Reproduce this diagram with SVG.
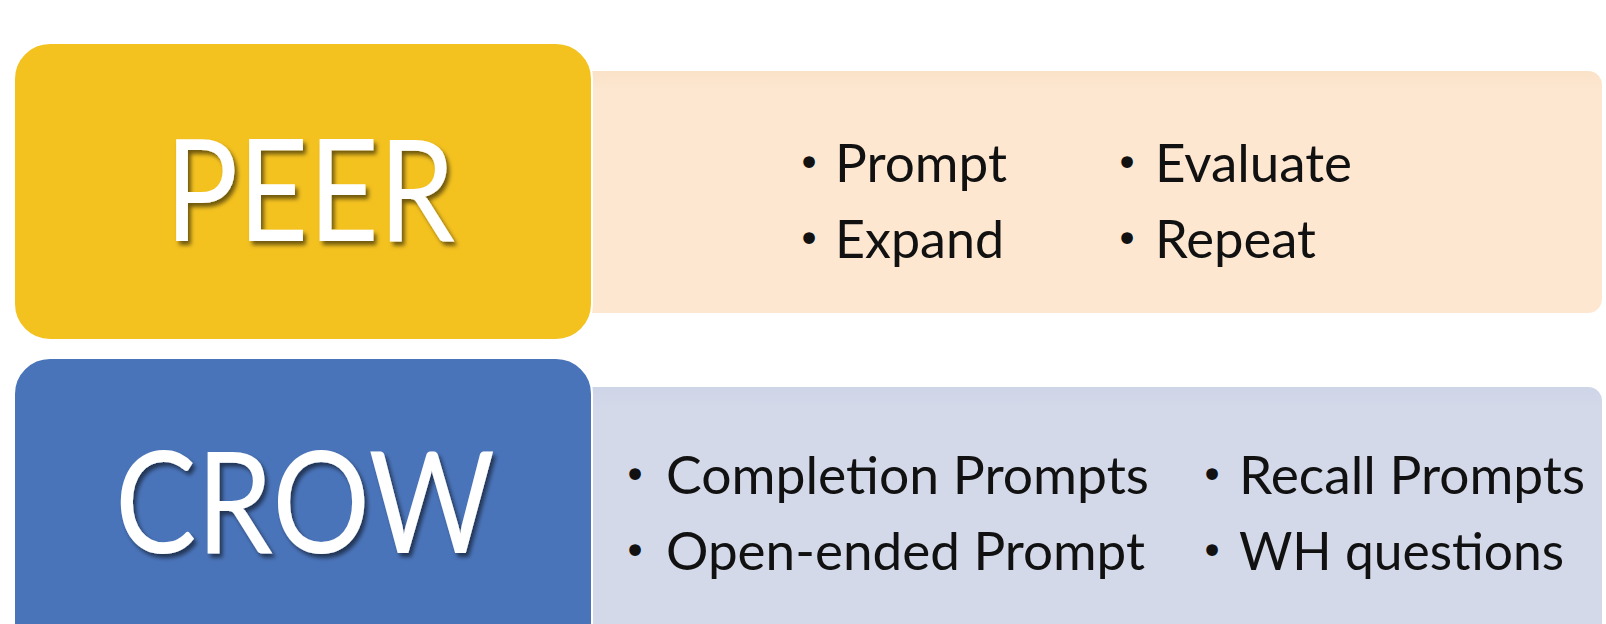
<svg xmlns="http://www.w3.org/2000/svg" width="1606" height="624" viewBox="0 0 1606 624">
  <defs>
    <filter id="titleShadow" x="-10%" y="-10%" width="130%" height="140%">
      <feDropShadow dx="3" dy="4" stdDeviation="2" flood-color="#000" flood-opacity="0.55"/>
    </filter>
    <linearGradient id="peachFill" x1="0" y1="0" x2="0" y2="1">
      <stop offset="0" stop-color="#FAE2C8"/>
      <stop offset="0.08" stop-color="#FDE7D0"/>
      <stop offset="1" stop-color="#FDE7D0"/>
    </linearGradient>
    <linearGradient id="lavenderFill" x1="0" y1="0" x2="0" y2="1">
      <stop offset="0" stop-color="#CED5E7"/>
      <stop offset="0.08" stop-color="#D3D9E9"/>
      <stop offset="1" stop-color="#D3D9E9"/>
    </linearGradient>
  </defs>
  <style>
    .title { font-family: Lato, "Open Sans", "Liberation Sans", sans-serif; font-size: 141px; fill: #ffffff; filter: url(#titleShadow); }
    .item { font-family: Lato, "Open Sans", "Liberation Sans", sans-serif; font-size: 52px; fill: #111111; }
    .dot { font-family: "DejaVu Sans", sans-serif; font-size: 40px; fill: #111111; text-anchor: middle; }
    .key { stroke: #ffffff; stroke-width: 2; }
  </style>

  <rect width="1606" height="624" fill="#ffffff"/>

  <!-- PEER: detail panel behind the key box -->
  <g id="peer-details">
    <rect x="560" y="71" width="1042" height="242" rx="14" fill="url(#peachFill)"/>
    <text class="dot" x="809" y="177">•</text>
    <text class="item" x="835" y="182" textLength="172" lengthAdjust="spacingAndGlyphs">Prompt</text>
    <text class="dot" x="1127" y="177">•</text>
    <text class="item" x="1155" y="182" textLength="197" lengthAdjust="spacingAndGlyphs">Evaluate</text>
    <text class="dot" x="809" y="253">•</text>
    <text class="item" x="835" y="258" textLength="169" lengthAdjust="spacingAndGlyphs">Expand</text>
    <text class="dot" x="1127" y="253">•</text>
    <text class="item" x="1155" y="258" textLength="161" lengthAdjust="spacingAndGlyphs">Repeat</text>
  </g>

  <!-- PEER: key box -->
  <g id="peer-key">
    <rect class="key" x="14" y="43" width="578" height="297" rx="36" fill="#F4C21F"/>
    <text class="title" x="165" y="241" textLength="290" lengthAdjust="spacingAndGlyphs">PEER</text>
  </g>

  <!-- CROW: detail panel behind the key box -->
  <g id="crow-details">
    <rect x="560" y="387" width="1042" height="260" rx="14" fill="url(#lavenderFill)"/>
    <text class="dot" x="635" y="489">•</text>
    <text class="item" x="666" y="494" textLength="483" lengthAdjust="spacingAndGlyphs">Completion Prompts</text>
    <text class="dot" x="1212" y="489">•</text>
    <text class="item" x="1239" y="494" textLength="346" lengthAdjust="spacingAndGlyphs">Recall Prompts</text>
    <text class="dot" x="635" y="565">•</text>
    <text class="item" x="666" y="570" textLength="479" lengthAdjust="spacingAndGlyphs">Open-ended Prompt</text>
    <text class="dot" x="1212" y="565">•</text>
    <text class="item" x="1239" y="570" textLength="325" lengthAdjust="spacingAndGlyphs">WH questions</text>
  </g>

  <!-- CROW: key box -->
  <g id="crow-key">
    <rect class="key" x="14" y="358" width="578" height="300" rx="36" fill="#4A74BA"/>
    <text class="title" x="115" y="553" textLength="380" lengthAdjust="spacingAndGlyphs">CROW</text>
  </g>
</svg>
